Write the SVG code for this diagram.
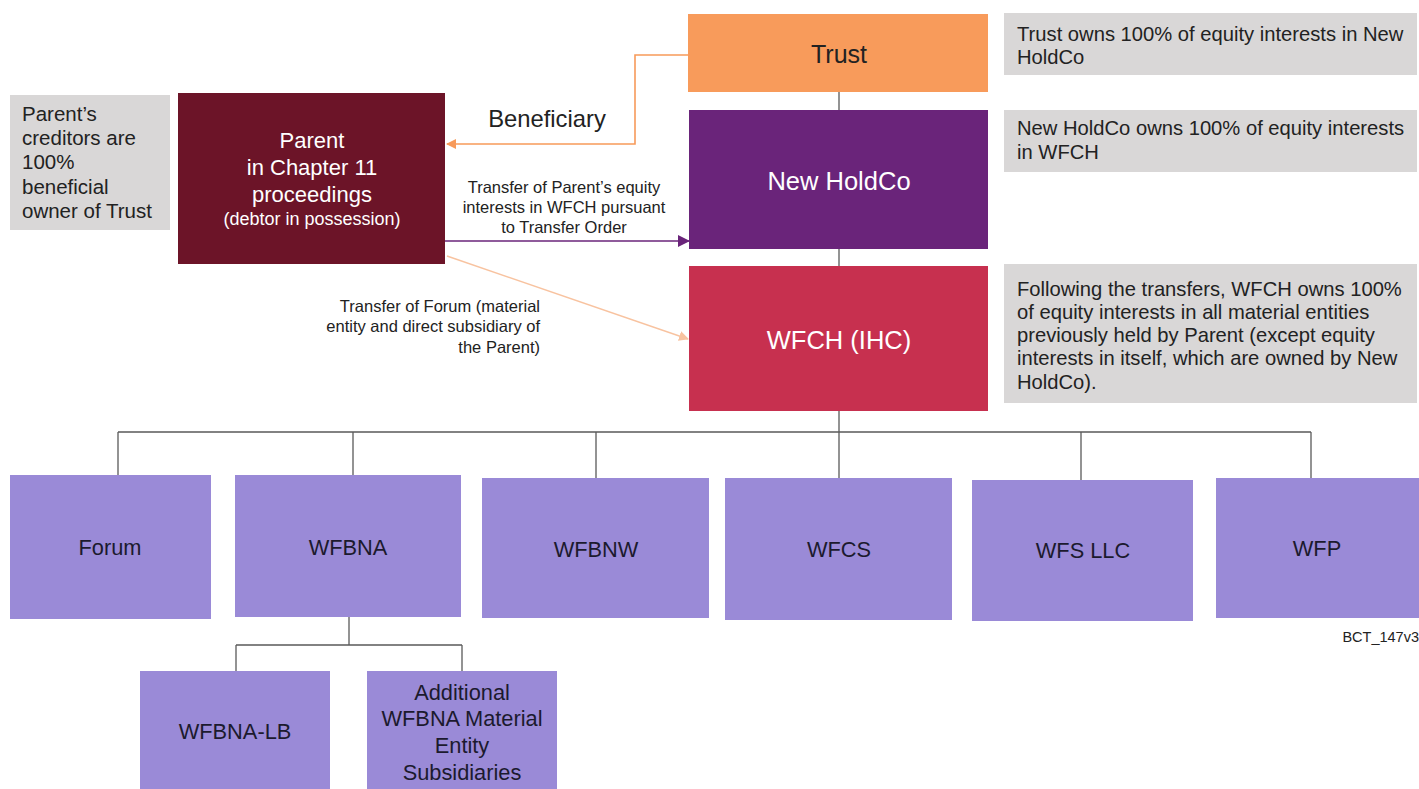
<svg xmlns="http://www.w3.org/2000/svg" width="1419" height="789" viewBox="0 0 1419 789">
<style>
text{font-family:"Liberation Sans",Arial,sans-serif}
.note{fill:#D9D7D7}
.nt{font-size:20.2px;fill:#222}
.sub{fill:#9A8AD7}
.st{font-size:21.8px;fill:#1c1a2e;text-anchor:middle}
.wt{fill:#fff;text-anchor:middle}
.tree{stroke:#5a5a5a;stroke-width:1.3;fill:none}
.lbl{font-size:16.5px;fill:#222}
</style>
<defs>
<marker id="aO" markerWidth="10" markerHeight="10" refX="9" refY="5" orient="auto" markerUnits="userSpaceOnUse"><path d="M0,0 L10,5 L0,10 Z" fill="#F79A5A"/></marker>
<marker id="aP" markerWidth="12" markerHeight="12" refX="11" refY="6" orient="auto" markerUnits="userSpaceOnUse"><path d="M0,0 L12,6 L0,12 Z" fill="#6A247A"/></marker>
<marker id="aL" markerWidth="10" markerHeight="10" refX="9" refY="5" orient="auto" markerUnits="userSpaceOnUse"><path d="M0,0 L10,5 L0,10 Z" fill="#F8C3A0"/></marker>
</defs>
<rect width="1419" height="789" fill="#fff"/>
<g id="connectors">
<path class="tree" d="M839,92 V110 M839,249 V266 M839,411 V478 M118,432 H1311 M118,432 V475 M353,432 V475 M596,432 V478 M1081,432 V480 M1311,432 V478 M349,617 V645 M236,645 H462 M236,645 V671 M462,645 V671"/>
<path d="M688,55 H635 V144 H447" fill="none" stroke="#F79A5A" stroke-width="1.6" marker-end="url(#aO)"/>
<path d="M445,241 H689" fill="none" stroke="#6A247A" stroke-width="1.6" marker-end="url(#aP)"/>
<path d="M447,256 L688,339" fill="none" stroke="#F8C3A0" stroke-width="1.4" marker-end="url(#aL)"/>
<text x="547" y="127" font-size="23.8" text-anchor="middle" fill="#222">Beneficiary</text>
<text class="lbl" text-anchor="middle"><tspan x="564" y="193">Transfer of Parent’s equity</tspan><tspan x="564" y="213">interests in WFCH pursuant</tspan><tspan x="564" y="233">to Transfer Order</tspan></text>
<text class="lbl" text-anchor="end"><tspan x="540" y="312">Transfer of Forum (material</tspan><tspan x="540" y="332">entity and direct subsidiary of</tspan><tspan x="540" y="353">the Parent)</tspan></text>
</g>
<g id="note-creditors"><rect class="note" x="10" y="95" width="160" height="135"/>
<text font-size="20.5" fill="#222"><tspan x="22" y="121">Parent’s</tspan><tspan x="22" y="145">creditors are</tspan><tspan x="22" y="169">100%</tspan><tspan x="22" y="194">beneficial</tspan><tspan x="22" y="218">owner of Trust</tspan></text></g>
<g id="parent"><rect x="178" y="93" width="267" height="171" fill="#6C1428"/>
<text class="wt" font-size="22"><tspan x="312" y="148">Parent</tspan><tspan x="312" y="175">in Chapter 11</tspan><tspan x="312" y="202">proceedings</tspan></text>
<text class="wt" x="312" y="225" font-size="18">(debtor in possession)</text></g>
<g id="trust"><rect x="688" y="14" width="300" height="78" fill="#F89B5B"/><text x="839" y="63" font-size="25" text-anchor="middle" fill="#222">Trust</text></g>
<g id="newholdco"><rect x="689" y="110" width="299" height="139" fill="#6A247A"/><text class="wt" x="839" y="190" font-size="25.5">New HoldCo</text></g>
<g id="wfch"><rect x="689" y="266" width="299" height="145" fill="#C7304F"/><text class="wt" x="839" y="349" font-size="25.5">WFCH (IHC)</text></g>
<g id="note-trust"><rect class="note" x="1004" y="13" width="413" height="62"/><text class="nt"><tspan x="1017" y="41">Trust owns 100% of equity interests in New</tspan><tspan x="1017" y="64">HoldCo</tspan></text></g>
<g id="note-holdco"><rect class="note" x="1004" y="110" width="413" height="62"/><text class="nt"><tspan x="1017" y="135">New HoldCo owns 100% of equity interests</tspan><tspan x="1017" y="159">in WFCH</tspan></text></g>
<g id="note-wfch"><rect class="note" x="1004" y="264" width="413" height="139"/><text class="nt"><tspan x="1017" y="296">Following the transfers, WFCH owns 100%</tspan><tspan x="1017" y="319">of equity interests in all material entities</tspan><tspan x="1017" y="342">previously held by Parent (except equity</tspan><tspan x="1017" y="365">interests in itself, which are owned by New</tspan><tspan x="1017" y="389">HoldCo).</tspan></text></g>
<g id="forum"><rect class="sub" x="10" y="475" width="201" height="144"/><text class="st" x="110" y="555">Forum</text></g>
<g id="wfbna"><rect class="sub" x="235" y="475" width="226" height="142"/><text class="st" x="348" y="555">WFBNA</text></g>
<g id="wfbnw"><rect class="sub" x="482" y="478" width="227" height="140"/><text class="st" x="596" y="557">WFBNW</text></g>
<g id="wfcs"><rect class="sub" x="725" y="478" width="227" height="142"/><text class="st" x="839" y="557">WFCS</text></g>
<g id="wfsllc"><rect class="sub" x="972" y="480" width="221" height="141"/><text class="st" x="1083" y="558">WFS LLC</text></g>
<g id="wfp"><rect class="sub" x="1216" y="478" width="203" height="140"/><text class="st" x="1317" y="556">WFP</text></g>
<g id="wfbna-lb"><rect class="sub" x="140" y="671" width="190" height="118"/><text class="st" x="235" y="739">WFBNA-LB</text></g>
<g id="additional"><rect class="sub" x="367" y="671" width="190" height="118"/><text class="st"><tspan x="462" y="700">Additional</tspan><tspan x="462" y="726">WFBNA Material</tspan><tspan x="462" y="753">Entity</tspan><tspan x="462" y="780">Subsidiaries</tspan></text></g>
<text x="1419" y="642" font-size="14.5" text-anchor="end" fill="#222">BCT_147v3</text>
</svg>
